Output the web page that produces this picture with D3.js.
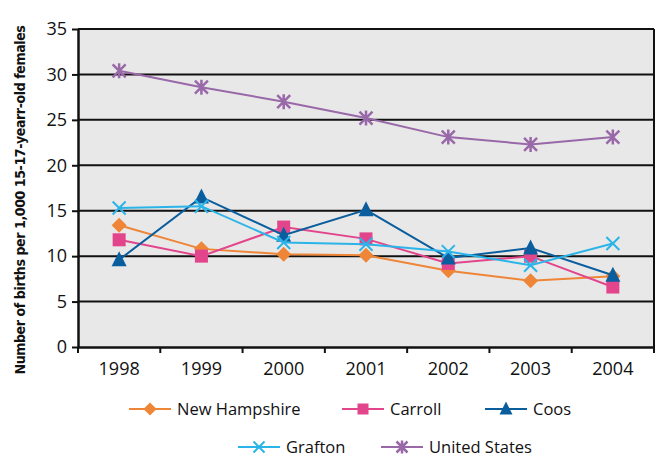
<!DOCTYPE html>
<html>
<head>
<meta charset="utf-8">
<script src="https://cdn.jsdelivr.net/npm/d3@7"></script>
<style>
  body { margin: 0; background: #fff; }
  text { font-family: "Open Sans", "Noto Sans", sans-serif; fill: #111; }
</style>
</head>
<body>
<div id="chart"></div>
<script>
var years = ["1998", "1999", "2000", "2001", "2002", "2003", "2004"];
var yTicks = [0, 5, 10, 15, 20, 25, 30, 35];

var newHampshire = [13.4, 10.8, 10.2, 10.1, 8.4, 7.3, 7.8];
var carroll      = [11.8, 10.0, 13.2, 11.9, 9.2, 10.0, 6.6];
var coos         = [9.6, 16.5, 12.3, 15.1, 9.8, 10.9, 7.9];
var grafton      = [15.3, 15.5, 11.5, 11.3, 10.5, 9.0, 11.4];
var unitedStates = [30.4, 28.6, 27.0, 25.2, 23.1, 22.3, 23.1];

var seriesNames = ["New Hampshire", "Carroll", "Coos", "Grafton", "United States"];

var series = [
  {name: seriesNames[0], values: newHampshire, color: "#ee8537", shape: "diamond"},
  {name: seriesNames[1], values: carroll, color: "#e2458c", shape: "square"},
  {name: seriesNames[2], values: coos, color: "#0b5e9e", shape: "triangle"},
  {name: seriesNames[3], values: grafton, color: "#2bb4e8", shape: "x"},
  {name: seriesNames[4], values: unitedStates, color: "#9968a8", shape: "star"}
];

var width = 657, height = 458;
var margin = {top: 29, right: 3, bottom: 111, left: 78};

var svg = d3.select("#chart")
  .append("svg")
    .attr("width", width)
    .attr("height", height);

var x = d3.scaleBand()
  .domain(years)
  .range([margin.left, width - margin.right]);

var y = d3.scaleLinear()
  .domain([0, 35])
  .range([height - margin.bottom, margin.top]);

// plot background
svg.append("rect")
  .attr("x", margin.left)
  .attr("y", margin.top)
  .attr("width", width - margin.right - margin.left)
  .attr("height", height - margin.bottom - margin.top)
  .attr("fill", "#e8e8e8");

// gridlines
svg.append("g")
  .selectAll("line")
  .data(yTicks.slice(1))
  .enter().append("line")
    .attr("x1", margin.left)
    .attr("x2", width - margin.right)
    .attr("y1", d => y(d))
    .attr("y2", d => y(d))
    .attr("stroke", "#111")
    .attr("stroke-width", 2);

// right border
svg.append("line")
  .attr("x1", width - margin.right).attr("x2", width - margin.right)
  .attr("y1", margin.top).attr("y2", y(0))
  .attr("stroke", "#111").attr("stroke-width", 2);

// Y axis
var yAxis = svg.append("g")
  .attr("transform", `translate(${margin.left},0)`)
  .call(d3.axisLeft(y).tickValues(yTicks).tickSize(6).tickSizeOuter(0));
yAxis.select(".domain").attr("stroke", "#111").attr("stroke-width", 2.5);
yAxis.selectAll(".tick line").attr("stroke", "#111").attr("stroke-width", 2);
yAxis.selectAll(".tick text")
  .attr("x", -11)
  .style("font-size", "18px");

// X axis, ticks at band edges
var xAxis = svg.append("g")
  .attr("transform", `translate(0,${y(0)})`)
  .call(d3.axisBottom(x).tickSize(0).tickSizeOuter(0));
xAxis.select(".domain").attr("stroke", "#111").attr("stroke-width", 2.5);
xAxis.selectAll(".tick text")
  .attr("y", 15)
  .style("font-size", "18px");
xAxis.selectAll(".edge")
  .data(years.concat(["end"]))
  .enter().append("line")
    .attr("class", "edge")
    .attr("x1", (d, i) => margin.left + i * x.step())
    .attr("x2", (d, i) => margin.left + i * x.step())
    .attr("y1", 0)
    .attr("y2", 6)
    .attr("stroke", "#111")
    .attr("stroke-width", 2);

// Y axis title
svg.append("text")
  .attr("transform", `translate(25,${(margin.top + y(0)) / 2 + 12}) rotate(-90)`)
  .attr("text-anchor", "middle")
  .style("font-family", "'DejaVu Sans Condensed', 'DejaVu Sans', sans-serif")
  .style("font-stretch", "condensed")
  .style("font-weight", "bold")
  .style("font-size", "14px")
  .style("letter-spacing", "-0.4px")
  .text("Number of births per 1,000 15-17-yearr-old females");

// markers
function drawMarker(g, shape, color, size) {
  if (shape === "diamond") {
    var d = size / 2 + 2;
    g.append("path").attr("d", `M0,${-d}L${d},0L0,${d}L${-d},0Z`).attr("fill", color);
  } else if (shape === "square") {
    g.append("rect").attr("x", -size / 2 - 1).attr("y", -size / 2 - 1)
      .attr("width", size + 2).attr("height", size + 2).attr("fill", color);
  } else if (shape === "triangle") {
    var t = size / 2 + 2;
    g.append("path").attr("d", `M0,${-t - 1}L${t},${t - 1}L${-t},${t - 1}Z`).attr("fill", color);
  } else if (shape === "x") {
    var s = size / 2 + 1;
    g.append("path").attr("d", `M${-s},${-s}L${s},${s}M${-s},${s}L${s},${-s}`)
      .attr("stroke", color).attr("stroke-width", 2).attr("fill", "none");
  } else if (shape === "star") {
    var s2 = size / 2 + 1;
    g.append("path").attr("d", `M${-s2},${-s2}L${s2},${s2}M${-s2},${s2}L${s2},${-s2}M0,${-s2 - 1}L0,${s2 + 1}`)
      .attr("stroke", color).attr("stroke-width", 2.5).attr("fill", "none");
  }
}

var line = d3.line()
  .x((d, i) => x(years[i]) + x.bandwidth() / 2)
  .y(d => y(d));

series.forEach(function(s) {
  var g = svg.append("g");
  g.append("path")
    .attr("d", line(s.values))
    .attr("fill", "none")
    .attr("stroke", s.color)
    .attr("stroke-width", 2);
  s.values.forEach(function(v, i) {
    var m = g.append("g")
      .attr("transform", `translate(${x(years[i]) + x.bandwidth() / 2},${y(v)})`);
    drawMarker(m, s.shape, s.color, 11);
  });
});

// legend
var legendPos = [
  {x: 129, y: 409}, {x: 342, y: 409}, {x: 485, y: 409},
  {x: 238, y: 447}, {x: 381, y: 447}
];
series.forEach(function(s, i) {
  var p = legendPos[i];
  var g = svg.append("g").attr("transform", `translate(${p.x},${p.y})`);
  g.append("line")
    .attr("x1", 0).attr("x2", 42)
    .attr("stroke", s.color).attr("stroke-width", 2);
  var m = g.append("g").attr("transform", "translate(21,0)");
  drawMarker(m, s.shape, s.color, 9);
  g.append("text")
    .attr("x", 48)
    .attr("y", 6)
    .style("font-size", "16.5px")
    .text(s.name);
});
</script>
</body>
</html>
